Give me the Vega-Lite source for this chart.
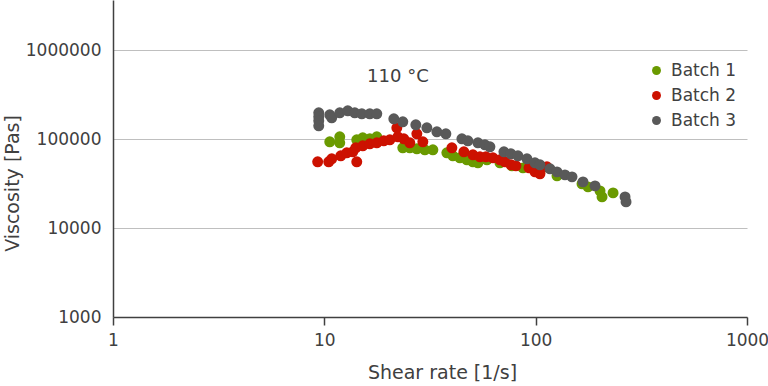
{
  "$schema": "https://vega.github.io/schema/vega-lite/v6.json",
  "width": 634,
  "height": 317,
  "autosize": {"type": "none"},
  "padding": {"left": 113, "top": 0, "right": 21, "bottom": 69},
  "background": "white",
  "config": {
    "view": {"stroke": null},
    "font": "DejaVu Sans",
    "axis": {"labelFont": "DejaVu Sans", "titleFont": "DejaVu Sans", "labelColor": "#404040", "titleColor": "#404040", "titleFontWeight": "normal", "labelFlush": false, "labelOverlap": false},
    "legend": {"labelFont": "DejaVu Sans"}
  },
  "layer": [
    {
      "data": {"values": [
        {"batch": "Batch 1", "rate": 10.61, "visc": 93000},
        {"batch": "Batch 1", "rate": 11.83, "visc": 105900},
        {"batch": "Batch 1", "rate": 11.83, "visc": 90650},
        {"batch": "Batch 1", "rate": 14.24, "visc": 97950},
        {"batch": "Batch 1", "rate": 15.2, "visc": 103100},
        {"batch": "Batch 1", "rate": 16.41, "visc": 100500},
        {"batch": "Batch 1", "rate": 17.71, "visc": 105900},
        {"batch": "Batch 1", "rate": 23.51, "visc": 79600},
        {"batch": "Batch 1", "rate": 25.38, "visc": 79600},
        {"batch": "Batch 1", "rate": 27.4, "visc": 77600},
        {"batch": "Batch 1", "rate": 29.9, "visc": 75600},
        {"batch": "Batch 1", "rate": 32.63, "visc": 75600},
        {"batch": "Batch 1", "rate": 38.0, "visc": 69950},
        {"batch": "Batch 1", "rate": 40.57, "visc": 64720},
        {"batch": "Batch 1", "rate": 43.8, "visc": 61460},
        {"batch": "Batch 1", "rate": 47.27, "visc": 58350},
        {"batch": "Batch 1", "rate": 50.47, "visc": 55410},
        {"batch": "Batch 1", "rate": 53.3, "visc": 54000},
        {"batch": "Batch 1", "rate": 58.8, "visc": 58350},
        {"batch": "Batch 1", "rate": 67.75, "visc": 54000},
        {"batch": "Batch 1", "rate": 77.21, "visc": 49960},
        {"batch": "Batch 1", "rate": 87.06, "visc": 47430},
        {"batch": "Batch 1", "rate": 104.8, "visc": 42760},
        {"batch": "Batch 1", "rate": 126.2, "visc": 38560},
        {"batch": "Batch 1", "rate": 165.7, "visc": 31340},
        {"batch": "Batch 1", "rate": 176.9, "visc": 29000},
        {"batch": "Batch 1", "rate": 201.6, "visc": 26150},
        {"batch": "Batch 1", "rate": 206.1, "visc": 22380},
        {"batch": "Batch 1", "rate": 232.4, "visc": 24820},
        {"batch": "Batch 2", "rate": 9.3, "visc": 55410},
        {"batch": "Batch 2", "rate": 10.49, "visc": 55410},
        {"batch": "Batch 2", "rate": 10.84, "visc": 59890},
        {"batch": "Batch 2", "rate": 11.96, "visc": 64720},
        {"batch": "Batch 2", "rate": 12.77, "visc": 69950},
        {"batch": "Batch 2", "rate": 13.63, "visc": 71780},
        {"batch": "Batch 2", "rate": 14.08, "visc": 79600},
        {"batch": "Batch 2", "rate": 14.24, "visc": 55410},
        {"batch": "Batch 2", "rate": 15.2, "visc": 83850},
        {"batch": "Batch 2", "rate": 16.41, "visc": 88300},
        {"batch": "Batch 2", "rate": 17.71, "visc": 90650},
        {"batch": "Batch 2", "rate": 19.11, "visc": 95450},
        {"batch": "Batch 2", "rate": 20.41, "visc": 97950},
        {"batch": "Batch 2", "rate": 22.03, "visc": 133700},
        {"batch": "Batch 2", "rate": 22.27, "visc": 105900},
        {"batch": "Batch 2", "rate": 23.77, "visc": 100500},
        {"batch": "Batch 2", "rate": 25.38, "visc": 90650},
        {"batch": "Batch 2", "rate": 27.4, "visc": 114400},
        {"batch": "Batch 2", "rate": 29.25, "visc": 93000},
        {"batch": "Batch 2", "rate": 40.13, "visc": 79600},
        {"batch": "Batch 2", "rate": 45.75, "visc": 71780},
        {"batch": "Batch 2", "rate": 50.47, "visc": 66420},
        {"batch": "Batch 2", "rate": 54.48, "visc": 63070},
        {"batch": "Batch 2", "rate": 58.16, "visc": 63070},
        {"batch": "Batch 2", "rate": 62.77, "visc": 61460},
        {"batch": "Batch 2", "rate": 67.75, "visc": 58350},
        {"batch": "Batch 2", "rate": 71.54, "visc": 55410},
        {"batch": "Batch 2", "rate": 76.38, "visc": 51270},
        {"batch": "Batch 2", "rate": 80.66, "visc": 49960},
        {"batch": "Batch 2", "rate": 92.97, "visc": 47430},
        {"batch": "Batch 2", "rate": 99.24, "visc": 42760},
        {"batch": "Batch 2", "rate": 104.8, "visc": 40600},
        {"batch": "Batch 2", "rate": 113.1, "visc": 48680},
        {"batch": "Batch 3", "rate": 9.41, "visc": 197100},
        {"batch": "Batch 3", "rate": 9.41, "visc": 177700},
        {"batch": "Batch 3", "rate": 9.41, "visc": 160200},
        {"batch": "Batch 3", "rate": 9.41, "visc": 140800},
        {"batch": "Batch 3", "rate": 10.61, "visc": 187200},
        {"batch": "Batch 3", "rate": 10.84, "visc": 173200},
        {"batch": "Batch 3", "rate": 11.83, "visc": 197100},
        {"batch": "Batch 3", "rate": 12.91, "visc": 207600},
        {"batch": "Batch 3", "rate": 13.93, "visc": 197100},
        {"batch": "Batch 3", "rate": 15.04, "visc": 192000},
        {"batch": "Batch 3", "rate": 16.41, "visc": 192000},
        {"batch": "Batch 3", "rate": 17.71, "visc": 192000},
        {"batch": "Batch 3", "rate": 21.32, "visc": 168800},
        {"batch": "Batch 3", "rate": 23.51, "visc": 156100},
        {"batch": "Batch 3", "rate": 27.1, "visc": 144400},
        {"batch": "Batch 3", "rate": 30.56, "visc": 133700},
        {"batch": "Batch 3", "rate": 34.08, "visc": 120500},
        {"batch": "Batch 3", "rate": 37.59, "visc": 114400},
        {"batch": "Batch 3", "rate": 44.76, "visc": 100500},
        {"batch": "Batch 3", "rate": 47.78, "visc": 95450},
        {"batch": "Batch 3", "rate": 53.3, "visc": 90650},
        {"batch": "Batch 3", "rate": 57.53, "visc": 86050},
        {"batch": "Batch 3", "rate": 60.75, "visc": 81700},
        {"batch": "Batch 3", "rate": 70.76, "visc": 71780},
        {"batch": "Batch 3", "rate": 76.38, "visc": 68160},
        {"batch": "Batch 3", "rate": 82.44, "visc": 64720},
        {"batch": "Batch 3", "rate": 90.95, "visc": 59890},
        {"batch": "Batch 3", "rate": 99.24, "visc": 54000},
        {"batch": "Batch 3", "rate": 104.8, "visc": 51270},
        {"batch": "Batch 3", "rate": 116.9, "visc": 46220},
        {"batch": "Batch 3", "rate": 126.2, "visc": 42760},
        {"batch": "Batch 3", "rate": 137.6, "visc": 39570},
        {"batch": "Batch 3", "rate": 148.6, "visc": 37570},
        {"batch": "Batch 3", "rate": 167.5, "visc": 33000},
        {"batch": "Batch 3", "rate": 190.9, "visc": 29760},
        {"batch": "Batch 3", "rate": 264.8, "visc": 22380},
        {"batch": "Batch 3", "rate": 267.7, "visc": 19660}
      ]},
      "mark": {"type": "circle", "size": 120, "opacity": 1},
      "encoding": {
        "x": {
          "field": "rate", "type": "quantitative",
          "scale": {"type": "log", "domain": [1, 1000], "nice": false},
          "axis": {
            "title": "Shear rate [1/s]", "values": [1, 10, 100, 1000], "format": "d",
            "grid": false, "domainColor": "#404040", "domainWidth": 1.5,
            "tickColor": "#404040", "tickWidth": 1.5, "tickSize": 8,
            "labelFontSize": 17, "labelPadding": 7,
            "titleFontSize": 19, "titleX": 329, "titleY": 55, "titleBaseline": "middle"
          }
        },
        "y": {
          "field": "visc", "type": "quantitative",
          "scale": {"type": "log", "domain": [1000, 3650000], "nice": false},
          "axis": {
            "title": "Viscosity [Pas]", "values": [1000, 10000, 100000, 1000000], "format": "d",
            "grid": true, "gridColor": "#bfbfbf", "gridWidth": 1,
            "ticks": false, "domainColor": "#404040", "domainWidth": 1.5,
            "labelFontSize": 17, "labelPadding": 12,
            "titleFontSize": 19, "titleX": -101, "titleY": 183, "titleBaseline": "middle", "titleAngle": 270
          }
        },
        "color": {
          "field": "batch", "type": "nominal",
          "scale": {"domain": ["Batch 1", "Batch 2", "Batch 3"], "range": ["#6a9a00", "#cc1100", "#595959"]},
          "legend": {
            "title": null, "orient": "none", "legendX": 535, "legendY": 62,
            "symbolType": "circle", "symbolSize": 80, "symbolOpacity": 1,
            "labelFontSize": 17, "labelColor": "#404040", "labelOffset": 6,
            "rowPadding": 7, "padding": 0
          }
        }
      }
    },
    {
      "data": {"values": [{"rate": 22.3, "visc": 500000, "label": "110 °C"}]},
      "mark": {"type": "text", "fontSize": 18, "color": "#404040", "baseline": "middle", "align": "center"},
      "encoding": {
        "x": {"field": "rate", "type": "quantitative"},
        "y": {"field": "visc", "type": "quantitative"},
        "text": {"field": "label"}
      }
    }
  ]
}
